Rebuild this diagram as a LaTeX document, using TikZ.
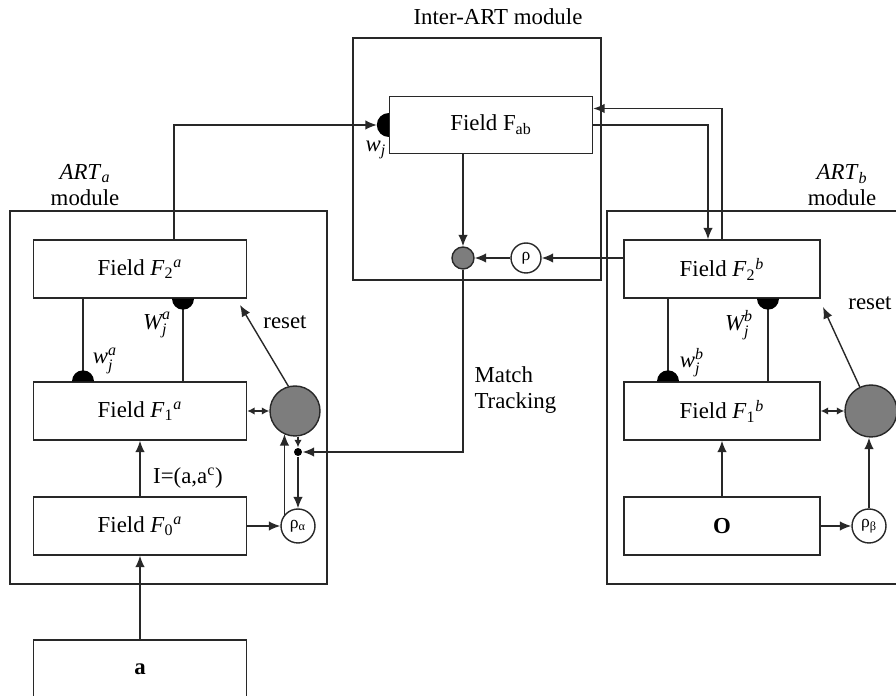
\documentclass[tikz,border=0pt]{standalone}
\usepackage{amsmath}
\usepackage{fontspec}
\setmainfont{Liberation Serif}
\usetikzlibrary{arrows.meta}
\definecolor{cellgray}{RGB}{125,125,125}
\definecolor{linegray}{RGB}{40,40,40}
\newcommand{\fld}[2]{Field \textit{F}$_{\text{#1}}{}^{\textit{#2}}$}
\newcommand{\synup}[1]{\fill #1 ++(-0.22cm,0) arc[start angle=180,end angle=0,radius=0.22cm] -- cycle;}
\newcommand{\syndown}[1]{\fill #1 ++(-0.22cm,0) arc[start angle=180,end angle=360,radius=0.22cm] -- cycle;}
\newcommand{\synleft}[1]{\fill #1 ++(0,0.24cm) arc[start angle=90,end angle=270,radius=0.24cm] -- cycle;}
\tikzset{
  field/.style={draw, fill=white, minimum width=4.26cm, minimum height=1.16cm, inner sep=0pt},
  fieldb/.style={field, minimum width=3.92cm},
  gcell/.style={circle, draw, fill=cellgray, inner sep=0pt},
  rhocell/.style={circle, draw, fill=white, inner sep=0pt, minimum size=0.68cm, font=\fontsize{10}{12}\selectfont},
  jdot/.style={circle, fill, inner sep=0pt, minimum size=0.16cm},
  wlabel/.style={inner sep=0.5pt},
  sm/.style={>={Latex[length=1.5mm,width=1.5mm]}}
}
\begin{document}
\begin{tikzpicture}[x=0.02cm,y=0.02cm,line width=0.8pt,draw=linegray,
  >={Latex[length=2.3mm,width=1.9mm]},
  every node/.style={font=\fontsize{13}{15}\selectfont}]
  \useasboundingbox (0,0) rectangle (896,696);
  \clip (0,0) rectangle (896,696);
  % modules
  \draw (10,112) rectangle (327,485);
  \draw (353,416) rectangle (601,658);
  \draw (607,112) rectangle (910,485);
  \node[align=center] (labA) at (85,511) {\textit{ART}$_{\textit{a}}$\\module};
  \node[align=center] (labB) at (842,511) {\textit{ART}$_{\textit{b}}$\\module};
  \node (labI) at (498,679) {Inter-ART module};
  % ART_a
  \node[field] (F2a) at (140,427) {\fld{2}{a}};
  \node[field] (F1a) at (140,285) {\fld{1}{a}};
  \node[field] (F0a) at (140,170) {\fld{0}{a}};
  \node[field] (ina) at (140,27) {\textbf{a}};
  \node[gcell, minimum size=1cm] (cira) at (295,285) {};
  \node[jdot] (dota) at (298,244) {};
  \node[rhocell] (rhoa) at (298,170) {ρ\textsubscript{α}};
  % Inter-ART
  \node[field, minimum width=4.06cm, minimum height=1.14cm] (Fab) at (491,571) {Field F\textsubscript{ab}};
  \node[gcell, minimum size=0.44cm] (gdot) at (463,438) {};
  \node[rhocell, minimum size=0.6cm] (rho) at (526,438) {ρ};
  % ART_b
  \node[fieldb] (F2b) at (722,427) {\fld{2}{b}};
  \node[fieldb] (F1b) at (722,285) {\fld{1}{b}};
  \node[fieldb] (inb) at (722,170) {\textbf{O}};
  \node[gcell, minimum size=1.04cm] (cirb) at (871,285) {};
  \node[rhocell] (rhob) at (869,170) {ρ\textsubscript{β}};
  % ART_a connections
  \draw[->] (ina.north) -- (F0a.south);
  \draw[->] (F0a.north) -- (F1a.south);
  \draw[->] (F0a.east) -- (rhoa.west);
  \draw (F2a.south -| 83,0) -- (F1a.north -| 83,0);
  \synup{(F1a.north -| 83,0)}
  \draw (F1a.north -| 183,0) -- (F2a.south -| 183,0);
  \syndown{(F2a.south -| 183,0)}
  \draw[<->,sm] (F1a.east) -- (cira.west);
  \coordinate (rsa) at (240,391);
  \draw[->] (cira.105) -- (rsa);
  \draw[->] (rhoa.140) -- (rhoa.140 |- cira.244);
  \draw[->,sm] (dota |- cira.south) -- (dota.north);
  \draw[->] (dota.south) -- (rhoa.north);
  \node[wlabel] (lwa) at (105,335) {$\textit{w}^{\textit{a}}_{\textit{j}}$};
  \node[wlabel] (lWa) at (157,371) {$\textit{W}^{\textit{a}}_{\textit{j}}$};
  \node (lra) at (285,374) {reset};
  \node (lI) at (188,218) {I=(a,a\textsuperscript{c})};
  % Inter-ART connections
  \draw[->,shorten >=0.24cm] (F2a.north -| 174,0) |- (Fab.west);
  \synleft{(Fab.west)}
  \node[wlabel] (lwj) at (376,546) {$\textit{w}_{\textit{j}}$};
  \draw[->] (Fab.south -| gdot) -- (gdot.north);
  \draw[->] (rho.west) -- (gdot.east);
  \draw[->] (F2b.west |- rho) -- (rho.east);
  \draw[->] (Fab.east) -| ([xshift=-0.28cm]F2b.north);
  \draw[->] (F2b.north) |- ([yshift=0.33cm]Fab.east);
  \draw[->] (gdot.south) |- (dota.east);
  \node[align=left, anchor=west] (lmt) at (468,306) {Match\\Tracking};
  % ART_b connections
  \draw[->] (inb.north) -- (F1b.south);
  \draw[->] (inb.east) -- (rhob.west);
  \draw[->] (rhob.north) -- (rhob.north |- cirb.south);
  \draw (F2b.south -| 668,0) -- (F1b.north -| 668,0);
  \synup{(F1b.north -| 668,0)}
  \draw (F1b.north -| 768,0) -- (F2b.south -| 768,0);
  \syndown{(F2b.south -| 768,0)}
  \draw[<->,sm] (F1b.east) -- (cirb.west);
  \coordinate (rsb) at (823,389);
  \draw[->] (cirb.115) -- (rsb);
  \node[wlabel] (lwb) at (692,333) {$\textit{w}^{\textit{b}}_{\textit{j}}$};
  \node[wlabel] (lWb) at (739,371) {$\textit{W}^{\textit{b}}_{\textit{j}}$};
  \node (lrb) at (870,393) {reset};
\end{tikzpicture}
\end{document}
